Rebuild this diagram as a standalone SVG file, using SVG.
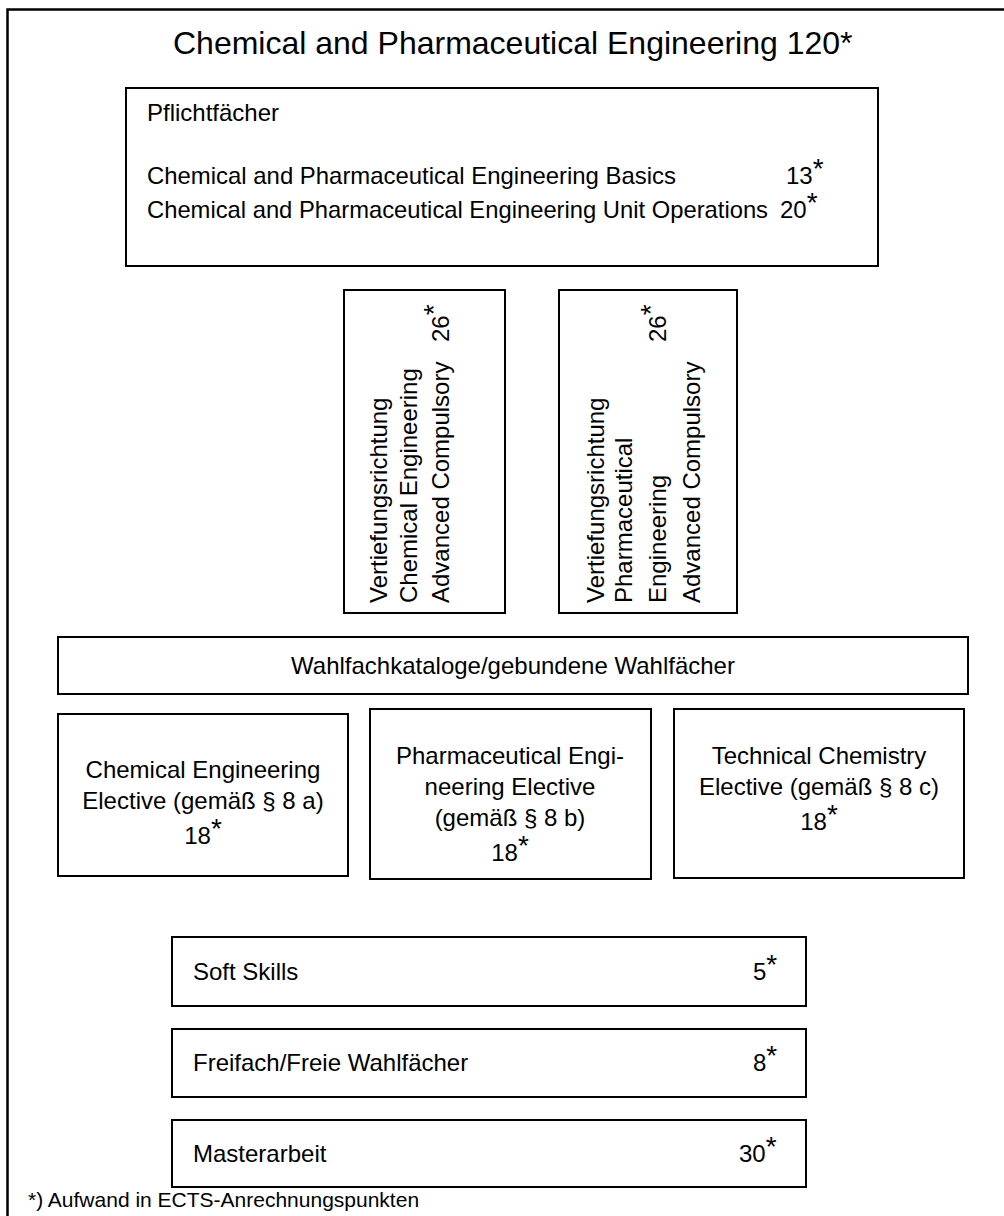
<svg xmlns="http://www.w3.org/2000/svg" width="1004" height="1216" viewBox="0 0 1004 1216">
<style>
text{font-family:"Liberation Sans",Arial,sans-serif;font-size:24px;fill:#000}
.box{fill:#fff;stroke:#000;stroke-width:2}
.c{text-anchor:middle}
.t{font-size:32px}
.f{font-size:21px}
.s{font-size:28px}
</style>
<rect width="1004" height="1216" fill="#fff"/>
<g id="frame">
<path d="M7.5 1216 V9.5 H1004" fill="none" stroke="#000" stroke-width="2.5"/>
<text class="t" x="173" y="54">Chemical and Pharmaceutical Engineering 120*</text>
</g>
<g id="pflicht">
<rect class="box" x="126" y="88" width="752" height="178"/>
<text x="147" y="121">Pflichtfächer</text>
<text x="147" y="184" textLength="529" lengthAdjust="spacingAndGlyphs">Chemical and Pharmaceutical Engineering Basics</text>
<text x="786" y="184">13<tspan class="s" dy="-6">*</tspan></text>
<text x="147" y="218" textLength="621" lengthAdjust="spacingAndGlyphs">Chemical and Pharmaceutical Engineering Unit Operations</text>
<text x="780" y="218">20<tspan class="s" dy="-6">*</tspan></text>
</g>
<g id="vert-ce">
<rect class="box" x="344" y="290" width="161" height="323"/>
<text transform="translate(387 603) rotate(-90)">Vertiefungsrichtung</text>
<text transform="translate(417 603) rotate(-90)">Chemical Engineering</text>
<text transform="translate(449 603) rotate(-90)">Advanced Compulsory</text>
<text transform="translate(449 342) rotate(-90)">26<tspan class="s" dy="-6">*</tspan></text>
</g>
<g id="vert-pe">
<rect class="box" x="559" y="290" width="178" height="323"/>
<text transform="translate(604 603) rotate(-90)">Vertiefungsrichtung</text>
<text transform="translate(632 603) rotate(-90)">Pharmaceutical</text>
<text transform="translate(666 603) rotate(-90)">Engineering</text>
<text transform="translate(666 342) rotate(-90)">26<tspan class="s" dy="-6">*</tspan></text>
<text transform="translate(700 603) rotate(-90)">Advanced Compulsory</text>
</g>
<g id="wahlfach">
<rect class="box" x="58" y="637" width="910" height="57"/>
<text class="c" x="513" y="674">Wahlfachkataloge/gebundene Wahlfächer</text>
</g>
<g id="ce-elective">
<rect class="box" x="58" y="714" width="290" height="162"/>
<text class="c" x="203" y="778">Chemical Engineering</text>
<text class="c" x="203" y="809">Elective (gemäß § 8 a)</text>
<text class="c" x="203" y="844">18<tspan class="s" dy="-6">*</tspan></text>
</g>
<g id="pe-elective">
<rect class="box" x="370" y="709" width="281" height="170"/>
<text class="c" x="510" y="764">Pharmaceutical Engi-</text>
<text class="c" x="510" y="795">neering Elective</text>
<text class="c" x="510" y="826">(gemäß § 8 b)</text>
<text class="c" x="510" y="861">18<tspan class="s" dy="-6">*</tspan></text>
</g>
<g id="tc-elective">
<rect class="box" x="674" y="709" width="290" height="169"/>
<text class="c" x="819" y="764">Technical Chemistry</text>
<text class="c" x="819" y="795">Elective (gemäß § 8 c)</text>
<text class="c" x="819" y="830">18<tspan class="s" dy="-6">*</tspan></text>
</g>
<g id="softskills">
<rect class="box" x="172" y="937" width="634" height="69"/>
<text x="193" y="980">Soft Skills</text>
<text x="753" y="980">5<tspan class="s" dy="-6">*</tspan></text>
</g>
<g id="freifach">
<rect class="box" x="172" y="1029" width="634" height="68"/>
<text x="193" y="1071">Freifach/Freie Wahlfächer</text>
<text x="753" y="1071">8<tspan class="s" dy="-6">*</tspan></text>
</g>
<g id="masterarbeit">
<rect class="box" x="172" y="1120" width="634" height="67"/>
<text x="193" y="1162">Masterarbeit</text>
<text x="739" y="1162">30<tspan class="s" dy="-6">*</tspan></text>
</g>
<g id="connectors"></g>
<text class="f" x="28" y="1207">*) Aufwand in ECTS-Anrechnungspunkten</text>
</svg>
